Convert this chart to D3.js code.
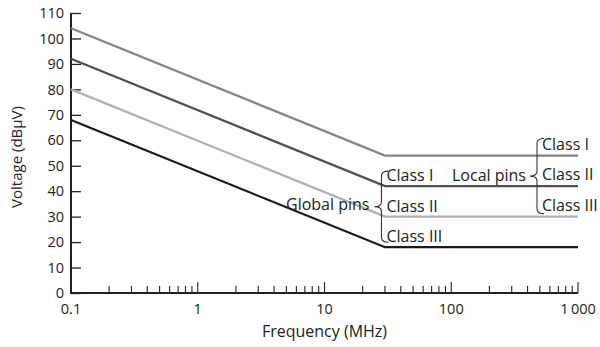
<!DOCTYPE html>
<html>
<head>
<meta charset="utf-8">
<script src="https://cdn.jsdelivr.net/npm/d3@7"></script>
<style>
  body { margin: 0; background: #fff; }
  svg { display: block; font-family: "Open Sans", sans-serif; }
</style>
</head>
<body>
<svg id="chart" width="600" height="347"></svg>
<script>
// frequency break points (MHz)
const freqs = [0.1, 30, 1000];
// limit lines in dBµV at each break point
const localClassI = [104, 54, 54];
const globalClassI = [92, 42, 42];
const globalClassII = [80, 30, 30];
const globalClassIII = [68, 18, 18];
const seriesColors = ['#858585', '#4f4f4f', '#b0b0b0', '#1a1a1a'];

const yTicks = [0, 10, 20, 30, 40, 50, 60, 70, 80, 90, 100, 110];
const xMajorTicks = [0.1, 1, 10, 100, 1000];
const xTickLabels = ['0.1', '1', '10', '100', '1\u2009000'];

const width = 600, height = 347;
const margin = {top: 13, right: 22, bottom: 54, left: 71};

const svg = d3.select('#chart');
const x = d3.scaleLog().domain([0.1, 1000]).range([margin.left, width - margin.right]);
const y = d3.scaleLinear().domain([0, 110]).range([height - margin.bottom, margin.top]);

const axisColor = '#222';

// y axis
const yAxis = svg.append('g')
  .attr('transform', `translate(${margin.left},0)`)
  .call(d3.axisRight(y).tickValues(yTicks).tickSize(10).tickFormat(''));
yAxis.select('.domain').remove();
yAxis.selectAll('line').attr('stroke', axisColor).attr('stroke-width', 1.3);
svg.selectAll('.ylab')
  .data(yTicks)
  .join('text')
  .attr('x', margin.left - 7)
  .attr('y', d => y(d))
  .attr('dy', '0.36em')
  .attr('text-anchor', 'end')
  .attr('font-size', 14.5)
  .attr('fill', '#222')
  .text(d => d);

// x axis: minor ticks, then majors
const minor = [];
for (let dec = 0.1; dec < 1000; dec *= 10) {
  for (let k = 2; k <= 9; k++) minor.push(+(dec * k).toPrecision(3));
}
const xAxisG = svg.append('g').attr('transform', `translate(0,${y(0)})`);
xAxisG.selectAll('.minor')
  .data(minor)
  .join('line')
  .attr('x1', d => x(d)).attr('x2', d => x(d))
  .attr('y1', 0).attr('y2', -7)
  .attr('stroke', axisColor).attr('stroke-width', 1.1);
xAxisG.selectAll('.major')
  .data(xMajorTicks)
  .join('line')
  .attr('x1', d => x(d)).attr('x2', d => x(d))
  .attr('y1', 0).attr('y2', -11)
  .attr('stroke', axisColor).attr('stroke-width', 1.1);
xAxisG.selectAll('text')
  .data(xMajorTicks)
  .join('text')
  .attr('x', d => x(d))
  .attr('y', 21)
  .attr('text-anchor', 'middle')
  .attr('font-size', 14.5)
  .attr('fill', '#222')
  .text((d, i) => xTickLabels[i]);

// axis lines
svg.append('path')
  .attr('d', `M${margin.left},${y(110)}V${y(0)}H${x(1000)}`)
  .attr('fill', 'none')
  .attr('stroke', axisColor)
  .attr('stroke-width', 2);

// axis titles
svg.append('text')
  .attr('x', (x(0.1) + x(1000)) / 2)
  .attr('y', 337)
  .attr('text-anchor', 'middle')
  .attr('font-size', 16)
  .attr('fill', '#222')
  .text('Frequency (MHz)');
svg.append('text')
  .attr('transform', `translate(22,${(y(0) + y(110)) / 2 + 4}) rotate(-90)`)
  .attr('text-anchor', 'middle')
  .attr('font-size', 15)
  .attr('fill', '#222')
  .text('Voltage (dBµV)');

// limit lines
const line = d3.line().x((d, i) => x(freqs[i])).y(d => y(d));
[localClassI, globalClassI, globalClassII, globalClassIII].forEach((s, i) => {
  svg.append('path')
    .attr('d', line(s))
    .attr('fill', 'none')
    .attr('stroke', seriesColors[i])
    .attr('stroke-width', 2.2);
});

// curly brace, pointing left
function brace(xb, y0, y1, w) {
  const ym = (y0 + y1) / 2, r = 5;
  return `M${xb + w},${y0} Q${xb},${y0} ${xb},${y0 + r}` +
    ` V${ym - r} Q${xb},${ym} ${xb - w},${ym}` +
    ` Q${xb},${ym} ${xb},${ym + r}` +
    ` V${y1 - r} Q${xb},${y1} ${xb + w},${y1}`;
}

const labelSize = 16;
const ann = svg.append('g').attr('fill', '#222').attr('font-size', labelSize);

// global pins
const gx = x(30) - 3.5;
svg.append('path')
  .attr('d', brace(gx, y(42) - 15, y(18) - 5, 7))
  .attr('fill', 'none').attr('stroke', '#333').attr('stroke-width', 1.1);
ann.append('text').attr('x', gx - 12).attr('y', y(30) - 7)
  .attr('text-anchor', 'end').text('Global pins');
[['Class I', 42], ['Class II', 30], ['Class III', 18]].forEach(([t, v]) => {
  ann.append('text').attr('x', gx + 5).attr('y', y(v) - 5).text(t);
});

// local pins
const lx = 537;
svg.append('path')
  .attr('d', brace(lx, y(54) - 17, y(30) - 3, 7))
  .attr('fill', 'none').attr('stroke', '#333').attr('stroke-width', 1.1);
ann.append('text').attr('x', lx - 11).attr('y', y(42) - 5)
  .attr('text-anchor', 'end').text('Local pins');
[['Class I', 54], ['Class II', 42], ['Class III', 30]].forEach(([t, v]) => {
  ann.append('text').attr('x', lx + 5).attr('y', y(v) - 6).text(t);
});
</script>
</body>
</html>
